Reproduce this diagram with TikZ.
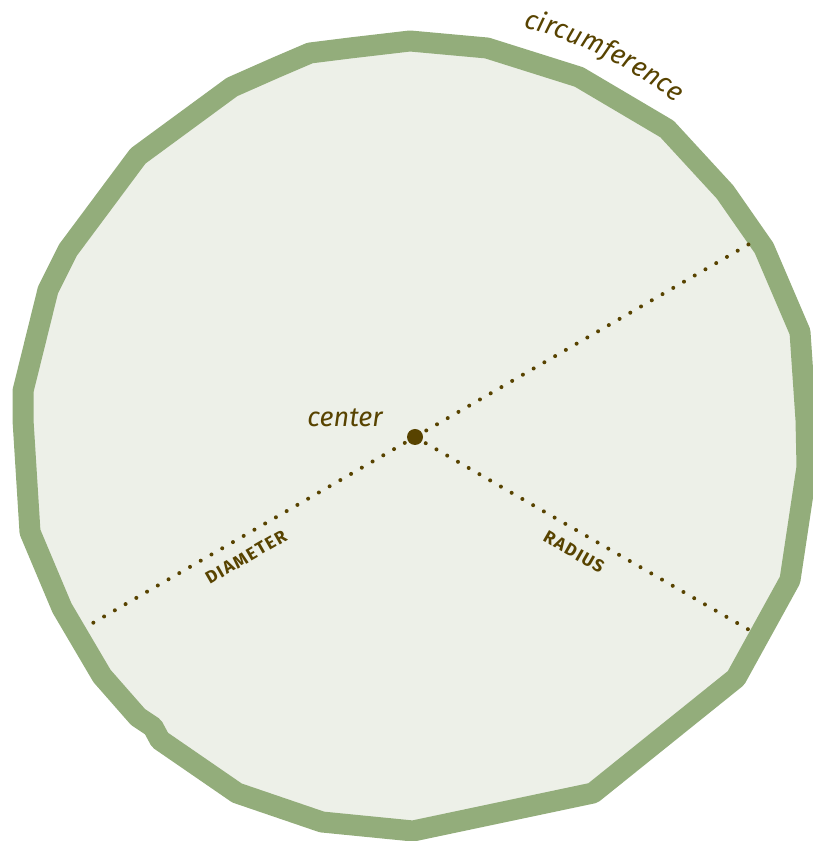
\documentclass[tikz,border=0pt]{standalone}
\usepackage{fontspec}
\setmainfont{Fira Sans}
\newfontfamily\capfont[LetterSpace=9]{Fira Sans}
\usetikzlibrary{decorations.text}
\definecolor{rim}{HTML}{93AD7B}
\definecolor{disc}{HTML}{EDF0E8}
\definecolor{ink}{HTML}{584300}
\newcommand\itsize{\itshape\fontsize{27pt}{32pt}\selectfont}
\newcommand\capsize{\capfont\bfseries\fontsize{17.5pt}{19pt}\selectfont}
\begin{document}
\begin{tikzpicture}[x=1pt,y=1pt,
  rimline/.style={draw=rim, line width=21pt, line join=round, fill=disc},
  dotline/.style={draw=ink, line width=4pt, line cap=round, dash pattern=on 0pt off 12.4pt},
  caplabel/.style={text=ink, inner sep=0pt},
  itlabel/.style={text=ink, inner sep=0pt}]
\useasboundingbox (0,0) rectangle (813,841);
\path[rimline] (410,800) -- (487,793) -- (579,764) -- (667,712) -- (725,649) -- (764,593)
  -- (800,509) -- (806,421) -- (807,374) -- (790,261) -- (736,163) -- (593,48) -- (413,10)
  -- (322,19) -- (237,48) -- (160,101) -- (153,114) -- (138,124) -- (102,165) -- (62,233)
  -- (30,309) -- (23,421) -- (23,450) -- (48,551) -- (68,591) -- (138,685) -- (232,754)
  -- (275,773) -- (310,788) -- (350,793) -- cycle;
\coordinate (ctr) at (415,404);
\path (ctr) ++(30:385) coordinate (dA);
\path (ctr) ++(210:376) coordinate (dB);
\path (ctr) ++(-30:388) coordinate (rE);
\draw[dotline] (dA) -- (dB);
\draw[dotline] (ctr) -- (rE);
\node[circle, fill=ink, inner sep=0pt, minimum size=16pt] (dot) at (ctr) {};
\node[caplabel, rotate=30] (diam) at (246,284) {\capsize DIAMETER};
\node[caplabel, rotate=-30] (rad) at (574,289) {\capsize RADIUS};
\node[itlabel, anchor=base] (ctrlabel) at (345,414) {\itsize center};
\path[decorate, decoration={text along path, text align=center, text color=ink,
  text={|\itsize|circumference}}]
  (508.6,817.5) arc[start angle=77.3, end angle=50, radius=424];
\end{tikzpicture}
\end{document}
